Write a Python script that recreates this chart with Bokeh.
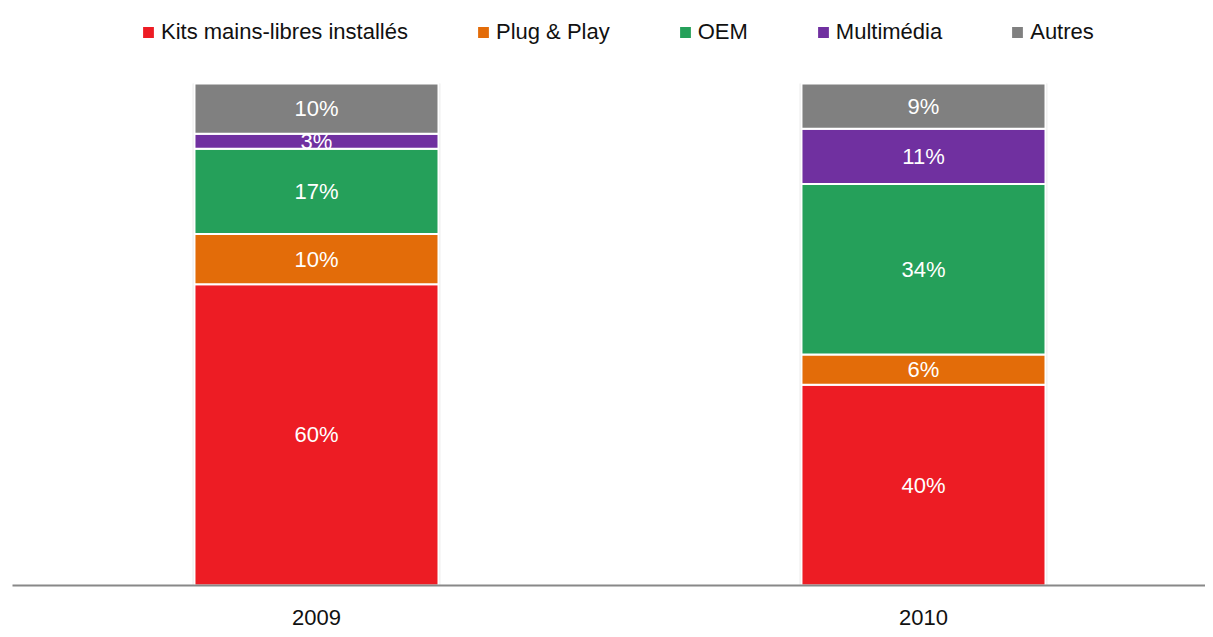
from bokeh.plotting import figure
from bokeh.models import ColumnDataSource, FixedTicker, Legend, LegendItem
from bokeh.core.properties import value
from bokeh.embed import file_html
from bokeh.resources import INLINE

years = ["2009", "2010"]
series = ["Kits mains-libres installés", "Plug & Play", "OEM", "Multimédia", "Autres"]
colors = ["#ED1C24", "#E36C09", "#25A05A", "#7030A0", "#808080"]
values = {
    "Kits mains-libres installés": [60, 40],
    "Plug & Play": [10, 6],
    "OEM": [17, 34],
    "Multimédia": [3, 11],
    "Autres": [10, 9],
}

FONT_NAME = "Liberation Sans"
FONT = value(FONT_NAME)
xpos = [i + 0.5 for i in range(len(years))]
bar_w = 0.402

p = figure(width=1205, height=629, output_backend="svg", toolbar_location=None,
           x_range=(-0.0008, 1.9646), y_range=(0, 114.94),
           min_border_left=12, min_border_right=0, min_border_top=8, min_border_bottom=44)
p.outline_line_color = None
p.xgrid.visible = False
p.ygrid.visible = False
p.yaxis.visible = False
p.background_fill_color = "white"
p.border_fill_color = "white"

# subtle shadow behind bars
totals = [sum(values[s][i] for s in series) for i in range(len(years))]
p.vbar(x=xpos, width=bar_w + 0.006, bottom=-0.9, top=totals,
       fill_color="black", fill_alpha=0.10, line_color=None)

items = []
bottoms = [0] * len(years)
lx, ly, lt = [], [], []
for s, c in zip(series, colors):
    tops = [b + v for b, v in zip(bottoms, values[s])]
    src = ColumnDataSource(dict(x=xpos, bottom=list(bottoms), top=tops))
    r = p.vbar(x="x", width=bar_w, bottom="bottom", top="top", source=src,
               fill_color=c, line_color="white", line_width=2)
    items.append(LegendItem(label=s, renderers=[r]))
    for i in range(len(years)):
        lx.append(xpos[i])
        ly.append((bottoms[i] + tops[i]) / 2)
        lt.append(f"{values[s][i]}%")
    bottoms = tops

p.text(x=lx, y=ly, text=lt, text_color="white", text_font=FONT,
       text_font_size="22px", text_align="center", text_baseline="middle")

legend = Legend(items=items, orientation="horizontal", location=(128, 540),
                glyph_width=16, glyph_height=16, label_standoff=5, spacing=67,
                padding=5, margin=0, border_line_color=None, background_fill_alpha=0,
                label_text_font=FONT_NAME, label_text_font_size="22px", label_text_color="#111111")
p.add_layout(legend)

ax = p.xaxis[0]
ax.ticker = FixedTicker(ticks=xpos)
ax.major_label_overrides = {x: y for x, y in zip(xpos, years)}
ax.axis_line_color = "#888888"
ax.axis_line_width = 2
ax.major_tick_line_color = None
ax.minor_tick_line_color = None
ax.major_label_standoff = 18
ax.major_label_text_font = FONT_NAME
ax.major_label_text_font_size = "22px"
ax.major_label_text_color = "#111111"

open("out.html", "w").write(file_html(p, INLINE))
